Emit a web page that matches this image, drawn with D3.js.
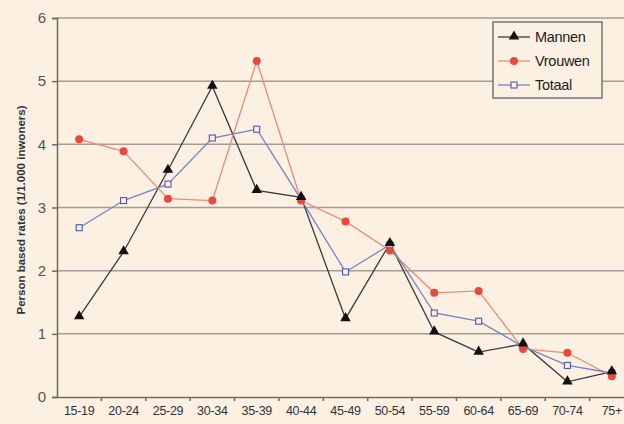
<!DOCTYPE html>
<html>
<head>
<meta charset="utf-8">
<script src="https://cdn.jsdelivr.net/npm/d3@7"></script>
<style>
  body { margin: 0; background: #fcf0e2; }
  svg { display: block; }
</style>
</head>
<body>
<div id="chart"></div>
<script>
var categories = ["15-19", "20-24", "25-29", "30-34", "35-39", "40-44", "45-49", "50-54", "55-59", "60-64", "65-69", "70-74", "75+"];
var mannen  = [1.27, 2.30, 3.59, 4.92, 3.27, 3.16, 1.24, 2.43, 1.03, 0.71, 0.84, 0.24, 0.40];
var vrouwen = [4.08, 3.89, 3.14, 3.11, 5.32, 3.11, 2.78, 2.32, 1.65, 1.68, 0.76, 0.70, 0.33];
var totaal  = [2.68, 3.11, 3.37, 4.10, 4.24, 3.13, 1.98, 2.41, 1.33, 1.20, 0.80, 0.50, 0.38];
var yTicks = [0, 1, 2, 3, 4, 5, 6];

var series = [
  {name: "Mannen", values: mannen, line: "#3a3a3a", marker: "triangle"},
  {name: "Vrouwen", values: vrouwen, line: "#ec8c78", marker: "circle"},
  {name: "Totaal", values: totaal, line: "#7383c4", marker: "square"}
];

var width = 624, height = 424;
var left = 57, top_ = 18, bottom = 397, right = 634;

var svg = d3.select("#chart").append("svg")
  .attr("width", width)
  .attr("height", height);

svg.append("rect").attr("width", width).attr("height", height).attr("fill", "#fcf0e2");

var x = d3.scaleBand().domain(categories).range([left, right]);
var y = d3.scaleLinear().domain([0, 6]).range([bottom, top_]);

// gridlines
svg.append("g")
  .selectAll("line")
  .data(yTicks.filter(d => d > 0))
  .enter().append("line")
  .attr("x1", left).attr("x2", width)
  .attr("y1", d => y(d)).attr("y2", d => y(d))
  .attr("stroke", "#a49d94")
  .attr("stroke-width", 1.5);

// y axis
var yAxis = d3.axisLeft(y).tickValues(yTicks).tickFormat(d3.format("d")).tickSize(5).tickPadding(6);
var gy = svg.append("g")
  .attr("transform", `translate(${left},0)`)
  .call(yAxis);
gy.select(".domain").attr("stroke", "#6f6a64").attr("stroke-width", 1.5);
gy.selectAll(".tick line").attr("stroke", "#6f6a64").attr("stroke-width", 1.5);
gy.selectAll("text")
  .attr("fill", "#555")
  .style("font-family", "Arial, 'Liberation Sans', sans-serif")
  .style("font-size", "15px");

// x axis
var xAxis = d3.axisBottom(x).tickSize(0).tickPadding(9);
var gx = svg.append("g")
  .attr("transform", `translate(0,${bottom})`)
  .call(xAxis);
gx.select(".domain").attr("stroke", "#6f6a64").attr("stroke-width", 1.5);
gx.selectAll("text")
  .attr("fill", "#333")
  .style("font-family", "Arial, 'Liberation Sans', sans-serif")
  .style("font-size", "12.5px")
  .style("letter-spacing", "-0.3px");
// tick marks between categories
gx.selectAll(".sep")
  .data(categories.slice(1))
  .enter().append("line")
  .attr("class", "sep")
  .attr("x1", d => x(d)).attr("x2", d => x(d))
  .attr("y1", 0).attr("y2", 4)
  .attr("stroke", "#6f6a64")
  .attr("stroke-width", 1.5);

// y axis title
svg.append("text")
  .attr("transform", "translate(25,210) rotate(-90)")
  .attr("text-anchor", "middle")
  .attr("fill", "#333")
  .style("font-family", "Arial, 'Liberation Sans', sans-serif")
  .style("font-size", "11.5px")
  .style("font-weight", "bold")
  .text("Person based rates (1/1.000 inwoners)");

var cx = d => x(d) + x.bandwidth() / 2;

var line = d3.line()
  .x((d, i) => cx(categories[i]))
  .y(d => y(d));

function drawMarker(g, s, px, py) {
  if (s.marker === "triangle") {
    g.append("path")
      .attr("d", d3.symbol().type(d3.symbolTriangle).size(48)())
      .attr("transform", `translate(${px},${py - 0.5})`)
      .attr("fill", "#111");
  } else if (s.marker === "circle") {
    g.append("circle")
      .attr("cx", px).attr("cy", py).attr("r", 4)
      .attr("fill", "#e8493a");
  } else {
    g.append("rect")
      .attr("x", px - 3).attr("y", py - 3)
      .attr("width", 6).attr("height", 6)
      .attr("fill", "#fcf0e2")
      .attr("stroke", "#4a5ab0")
      .attr("stroke-width", 1.1);
  }
}

series.forEach(function(s) {
  svg.append("path")
    .datum(s.values)
    .attr("fill", "none")
    .attr("stroke", s.line)
    .attr("stroke-width", 1.3)
    .attr("d", line);
});
series.slice().reverse().forEach(function(s) {
  var g = svg.append("g");
  s.values.forEach(function(v, i) {
    drawMarker(g, s, cx(categories[i]), y(v));
  });
});

// legend
var lg = svg.append("g").attr("transform", "translate(493,22)");
lg.append("rect")
  .attr("width", 109).attr("height", 76)
  .attr("fill", "#fcf0e2")
  .attr("stroke", "#555")
  .attr("stroke-width", 1.2);
series.forEach(function(s, i) {
  var ly = 15 + i * 24;
  lg.append("line")
    .attr("x1", 5).attr("x2", 37)
    .attr("y1", ly).attr("y2", ly)
    .attr("stroke", s.line).attr("stroke-width", 1.3);
  drawMarker(lg, s, 21, ly);
  lg.append("text")
    .attr("x", 42).attr("y", ly + 5)
    .attr("fill", "#222")
    .style("font-family", "Arial, 'Liberation Sans', sans-serif")
    .style("font-size", "14.5px")
    .style("letter-spacing", "-0.3px")
    .text(s.name);
});
</script>
</body>
</html>
